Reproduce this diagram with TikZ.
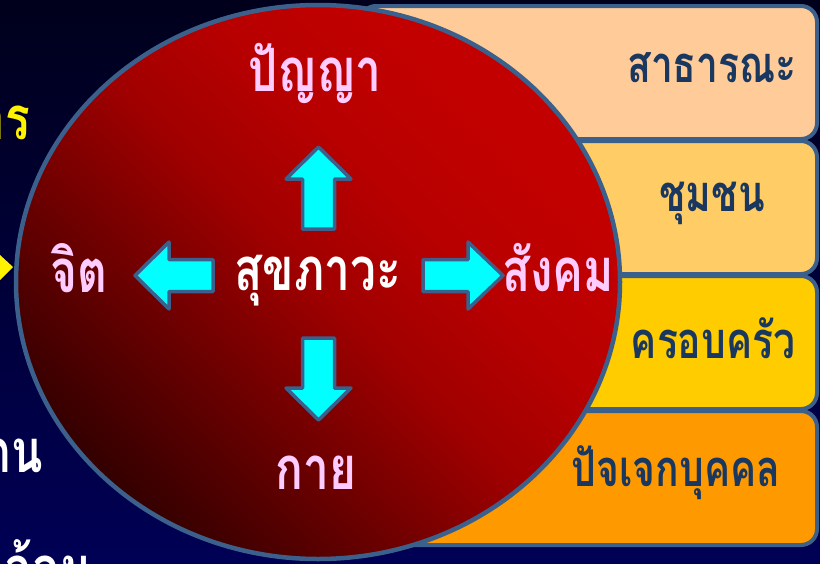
\documentclass[tikz,border=0pt]{standalone}
\usepackage{fontspec}
\usepackage{graphicx}
\newfontfamily\thaifont[Script=Thai]{Loma}
\newcommand{\tallthai}[1]{\scalebox{1}[1.3]{#1}}
\definecolor{bordc}{RGB}{60,96,140}
\definecolor{bgtop}{RGB}{0,0,28}
\definecolor{bgbot}{RGB}{0,0,85}
\definecolor{boxA}{RGB}{255,204,153}
\definecolor{boxB}{RGB}{255,204,102}
\definecolor{boxC}{RGB}{255,204,0}
\definecolor{boxD}{RGB}{255,153,0}
\definecolor{boxtxt}{RGB}{25,55,95}
\definecolor{pinktxt}{RGB}{255,204,255}
\definecolor{arrowc}{RGB}{0,255,255}
\pgfdeclareverticalshading{redball}{100bp}{
  rgb(0bp)=(0.2,0,0); rgb(25bp)=(0.2,0,0); rgb(38bp)=(0.42,0,0);
  rgb(50bp)=(0.63,0,0); rgb(60bp)=(0.72,0,0); rgb(70bp)=(0.76,0,0);
  rgb(100bp)=(0.76,0,0)}
\tikzset{
  lvlbox/.style={draw=bordc, line width=4pt, rounded corners=16pt},
  boxlabel/.style={font=\thaifont\bfseries\fontsize{39}{42}\selectfont, text=boxtxt},
  circlabel/.style={font=\thaifont\bfseries\fontsize{46}{48}\selectfont, text=pinktxt},
  blockarrow/.style={fill=arrowc, draw=bordc, line width=3.5pt, line join=round},
  sidetxt/.style={font=\thaifont\bfseries\fontsize{46}{50}\selectfont, anchor=east}
}
\begin{document}
\begin{tikzpicture}[x={(1pt,0)}, y={(0,-1pt)}]
\useasboundingbox (0,0) rectangle (820,563);
\clip (0,0) rectangle (820,563);
\shade[top color=bgtop, bottom color=bgbot] (0,0) rectangle (820,563);
% level boxes
\draw[lvlbox, fill=boxA] (360,6) rectangle (817,139);
\draw[lvlbox, fill=boxB] (360,141) rectangle (817,274);
\draw[lvlbox, fill=boxC] (360,276) rectangle (817,409);
\draw[lvlbox, fill=boxD] (360,411) rectangle (817,545);
\node[boxlabel] (pub) at (712,68) {\tallthai{สาธารณะ}};
\node[boxlabel] (com) at (712,203) {\tallthai{ชุมชน}};
\node[boxlabel] (fam) at (713,338) {\tallthai{ครอบครัว}};
\node[boxlabel] (ind) at (676,473) {\tallthai{ปัจเจกบุคคล}};
% circle
\shade[shading=redball, shading angle=-45]
  (318,282) ellipse [x radius=302, y radius=277];
\draw[bordc, line width=4.5pt] (318,282) ellipse [x radius=302, y radius=277];
% arrows
\draw[blockarrow] (318.5,147) -- (351,179) -- (334.5,179) -- (334.5,229) -- (302.5,229) -- (302.5,179) -- (286,179) -- cycle;
\draw[blockarrow] (318.5,420) -- (351,388) -- (334.5,388) -- (334.5,338) -- (302.5,338) -- (302.5,388) -- (286,388) -- cycle;
\draw[blockarrow] (135,275.5) -- (169,242) -- (169,259.5) -- (213,259.5) -- (213,291.5) -- (169,291.5) -- (169,309) -- cycle;
\draw[blockarrow] (503,275.5) -- (468,242) -- (468,259.5) -- (423,259.5) -- (423,291.5) -- (468,291.5) -- (468,309) -- cycle;
% labels
\node[circlabel] (wis) at (315,73) {\tallthai{ปัญญา}};
\node[circlabel] (mind) at (79,268) {\tallthai{จิต}};
\node[circlabel] (soc) at (558,268) {\tallthai{สังคม}};
\node[circlabel] (body) at (316,473) {\tallthai{กาย}};
\node[font=\thaifont\bfseries\fontsize{46}{48}\selectfont, text=white] (well) at (318,281) {\tallthai{สุขภาวะ}};
% partial texts on the left edge
\node[sidetxt, text=yellow] (lt1) at (34,123) {\tallthai{การ}};
\node[sidetxt, text=white] (lt2) at (46,456) {\tallthai{ตน}};
\node[sidetxt, text=white] (lt3) at (94,565) {\tallthai{แวดล้อม}};
\fill[yellow] (0,255) -- (13,267) -- (0,280) -- cycle;
\end{tikzpicture}
\end{document}
